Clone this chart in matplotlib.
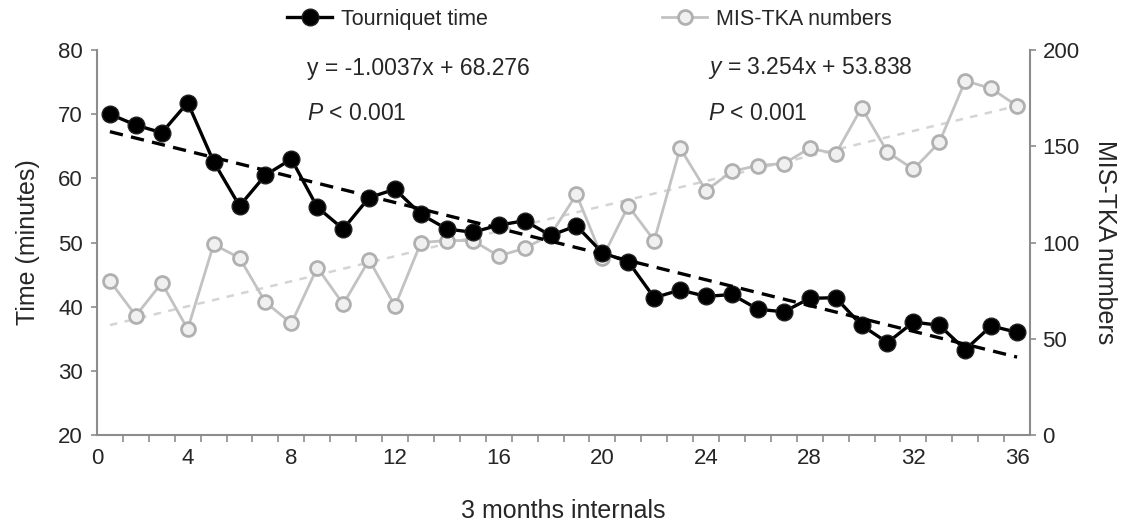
import numpy as np
import matplotlib.pyplot as plt

plt.rcParams['font.family'] = ['Liberation Sans', 'DejaVu Sans']
plt.rcParams['mathtext.fontset'] = 'custom'
plt.rcParams['mathtext.rm'] = 'Liberation Sans'
plt.rcParams['mathtext.it'] = 'Liberation Sans:italic'

# 3-month intervals 1..36
intervals = np.arange(1, 37)
tourniquet_time = [70.0, 68.3, 67.1, 71.8, 62.6, 55.7, 60.5, 63.0, 55.5, 52.1,
                   57.0, 58.3, 54.4, 52.1, 51.6, 52.7, 53.4, 51.1, 52.6, 48.4,
                   47.0, 41.4, 42.6, 41.6, 41.9, 39.6, 39.2, 41.3, 41.4, 37.1,
                   34.4, 37.6, 37.1, 33.3, 37.0, 36.0]
tka_numbers = [80, 62, 79, 55, 99, 92, 69, 58, 87, 68,
               91, 67, 100, 101, 101, 93, 97, 104, 125, 92,
               119, 101, 149, 127, 137, 140, 141, 149, 146, 170,
               147, 138, 152, 184, 180, 171]
time_fit = (-1.0037, 68.276)
tka_fit = (3.254, 53.838)
x_tick_labels = ['0', '4', '8', '12', '16', '20', '24', '28', '32', '36']

spine_col = '#8c8c8c'
text_col = '#262626'

fig = plt.figure(figsize=(11.25, 5.24), dpi=100)
ax1 = fig.add_axes([0.0862, 0.1698, 0.8294, 0.7348])
ax2 = ax1.twinx()
ax1.set_zorder(ax2.get_zorder() + 1)
ax1.patch.set_visible(False)

# MIS-TKA numbers (right axis)
ax2.plot(intervals, tka_fit[0] * intervals + tka_fit[1], color='#d4d4d4',
         lw=1.8, ls=(0, (3, 3)))
l2, = ax2.plot(intervals, tka_numbers, color='#c2c2c2', lw=2,
               marker='o', ms=10, mfc='#f0f0f0', mec='#b0b0b0', mew=2,
               label='MIS-TKA numbers')

# tourniquet time (left axis)
l1, = ax1.plot(intervals, tourniquet_time, color='black', lw=2.4,
               marker='o', ms=12, mfc='black', mec='#202020',
               label='Tourniquet time')
ax1.plot(intervals, time_fit[0] * intervals + time_fit[1], color='black',
         lw=2.4, ls=(0, (4, 2.5)))

ax1.set_xlim(0.5, 36.5)
ax1.set_ylim(20, 80)
ax2.set_ylim(0, 200)
ax1.set_yticks(np.arange(20, 81, 10))
ax2.set_yticks(np.arange(0, 201, 50))
ax1.set_xticks([0.5] + list(range(4, 37, 4)))
ax1.set_xticklabels(x_tick_labels)
ax1.set_xticks(np.arange(1.5, 36.5, 1), minor=True)

for ax in (ax1, ax2):
    for s in ax.spines.values():
        s.set_visible(False)
        s.set_color(spine_col)
        s.set_linewidth(1.5)
ax1.spines['left'].set_visible(True)
ax1.spines['bottom'].set_visible(True)
ax2.spines['right'].set_visible(True)

ax1.tick_params(axis='x', which='major', length=0, pad=9, labelsize=16,
                labelcolor=text_col)
ax1.tick_params(axis='x', which='minor', length=5, width=1.2, color=spine_col)
ax1.tick_params(axis='y', length=4, width=1.2, color=spine_col, pad=6,
                labelsize=16, labelcolor=text_col)
ax2.tick_params(axis='y', length=4, width=1.2, color=spine_col, pad=5,
                labelsize=16, labelcolor=text_col)

ax1.set_xlabel('3 months internals', fontsize=18, color=text_col, labelpad=22)
ax1.set_ylabel('Time (minutes)', fontsize=18, color=text_col, labelpad=13)
ax2.set_ylabel('MIS-TKA numbers', fontsize=18, color=text_col,
               rotation=270, labelpad=27)

ax1.text(0.225, 0.953, 'y = -1.0037x + 68.276', transform=ax1.transAxes,
         fontsize=16.5, color=text_col, va='center', ha='left')
ax1.text(0.225, 0.836, r'$\mathit{P}$ < 0.001', transform=ax1.transAxes,
         fontsize=16.5, color=text_col, va='center', ha='left')
ax1.text(0.655, 0.953, r'$\mathit{y}$ = 3.254x + 53.838', transform=ax1.transAxes,
         fontsize=16.5, color=text_col, va='center', ha='left')
ax1.text(0.655, 0.836, r'$\mathit{P}$ < 0.001', transform=ax1.transAxes,
         fontsize=16.5, color=text_col, va='center', ha='left')

fig.legend(handles=[l1, l2], loc='center', bbox_to_anchor=(0.524, 0.963),
           ncol=2, frameon=False, fontsize=15.5, handlelength=2.1,
           handletextpad=0.4, columnspacing=8.1, labelcolor=text_col)

fig.savefig('out.png', dpi=100)
